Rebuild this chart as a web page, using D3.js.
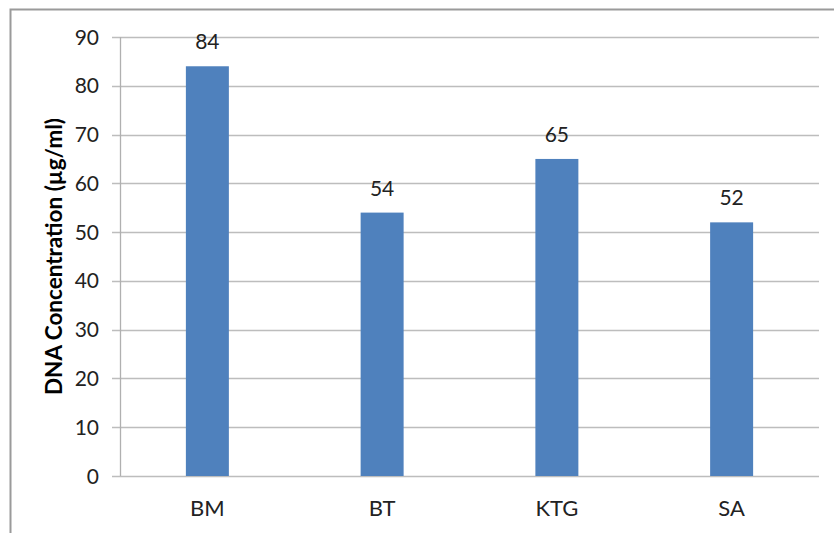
<!DOCTYPE html>
<html>
<head>
<meta charset="utf-8">
<script src="https://cdn.jsdelivr.net/npm/d3@7"></script>
<style>
  body { margin: 0; background: #fff; }
  svg { display: block; font-family: Lato, "Liberation Sans", sans-serif; }
</style>
</head>
<body>
<svg id="chart" width="834" height="533"></svg>
<script>
// values
var categories = ["BM", "BT", "KTG", "SA"]
var values = [84, 54, 65, 52]
var yTicks = [0, 10, 20, 30, 40, 50, 60, 70, 80, 90]
var yTitle = "DNA Concentration (µg/ml)"

var svg = d3.select("#chart")

// outer frame, runs off the right and bottom edge
svg.append("rect")
  .attr("x", 10.5).attr("y", 9.5)
  .attr("width", 840).attr("height", 540)
  .attr("fill", "none")
  .attr("stroke", "#9a9a9a")
  .attr("stroke-width", 2)

// plot area (window.top is reserved, so no "top" var)
var pLeft = 120, pRight = 819, pTop = 37, pBottom = 476

var x = d3.scaleBand()
  .domain(categories)
  .range([pLeft, pRight])
  .paddingInner(0.754)
  .paddingOuter(0.377)

var y = d3.scaleLinear()
  .domain([0, 90])
  .range([pBottom, pTop])

// gridlines
svg.append("g")
  .selectAll("line")
  .data(yTicks)
  .join("line")
  .attr("x1", pLeft - 8).attr("x2", pRight)
  .attr("y1", d => Math.round(y(d)) + 0.5)
  .attr("y2", d => Math.round(y(d)) + 0.5)
  .attr("stroke", "#bdbdbd")
  .attr("stroke-width", 1.3)

// y axis line
svg.append("line")
  .attr("x1", pLeft + 0.5).attr("x2", pLeft + 0.5)
  .attr("y1", pTop).attr("y2", pBottom)
  .attr("stroke", "#b0b0b0")
  .attr("stroke-width", 1.3)

// tick labels
svg.append("g")
  .selectAll("text")
  .data(yTicks)
  .join("text")
  .attr("x", 99)
  .attr("y", d => y(d))
  .attr("dy", "0.36em")
  .attr("text-anchor", "end")
  .attr("font-size", 21)
  .attr("fill", "#222")
  .text(d => d)

// bars
svg.append("g")
  .selectAll("rect")
  .data(values)
  .join("rect")
  .attr("x", (d, i) => x(categories[i]))
  .attr("y", d => y(d))
  .attr("width", x.bandwidth())
  .attr("height", d => pBottom - y(d))
  .attr("fill", "#4f81bd")

// value labels
svg.append("g")
  .selectAll("text")
  .data(values)
  .join("text")
  .attr("x", (d, i) => x(categories[i]) + x.bandwidth() / 2)
  .attr("y", d => y(d) - 17)
  .attr("text-anchor", "middle")
  .attr("font-size", 21)
  .attr("fill", "#222")
  .text(d => d)

// category labels
svg.append("g")
  .selectAll("text")
  .data(categories)
  .join("text")
  .attr("x", d => x(d) + x.bandwidth() / 2)
  .attr("y", 516)
  .attr("text-anchor", "middle")
  .attr("font-size", 22)
  .attr("fill", "#222")
  .text(d => d)

// y title
svg.append("text")
  .attr("transform", "translate(62," + ((pTop + pBottom) / 2) + ") rotate(-90)")
  .attr("text-anchor", "middle")
  .attr("font-size", 22.5)
  .attr("font-weight", "bold")
  .attr("fill", "#000")
  .text(yTitle)
</script>
</body>
</html>
